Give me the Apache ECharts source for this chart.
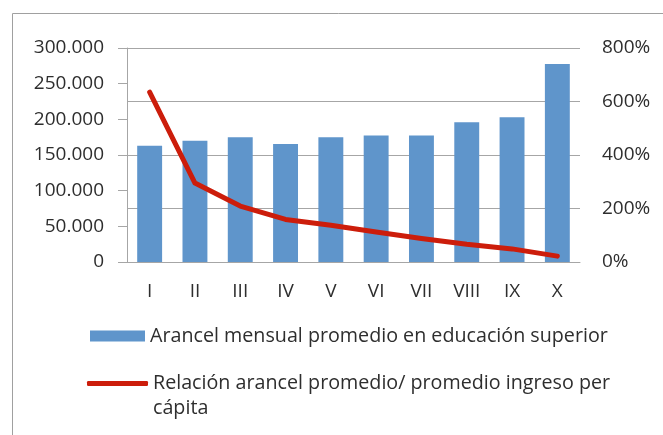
<!DOCTYPE html>
<html><head><meta charset="utf-8">
<script src="https://cdn.jsdelivr.net/npm/echarts@6/dist/echarts.min.js"></script>
<style>html,body{margin:0;padding:0;background:#fff}#c{width:663px;height:435px}</style>
</head><body><div id="c"></div>
<script>
const categories = ['I','II','III','IV','V','VI','VII','VIII','IX','X'];
const arancel = [163000,170000,175000,165500,175000,177500,177500,196000,203000,277500];
const relacion = [635,295,209,159,137,112,88,66,49,22];
const barName = 'Arancel mensual promedio en educación superior';
const lineName = 'Relación arancel promedio/ promedio ingreso per cápita';

const FONT = 'Open Sans';
const TXT = '#2e2e2e';
const GRID = '#a6a6a6';
const chart = echarts.init(document.getElementById('c'), null, {renderer:'canvas'});
const fmtThousands = v => String(v).replace(/\B(?=(\d{3})+(?!\d))/g, '.');
chart.setOption({
  animation:false,
  textStyle:{fontFamily:FONT},
  graphic:[{type:'rect', z:-10, silent:true, shape:{x:12.5,y:13.5,width:700,height:500}, style:{fill:'none',stroke:'#a0a0a0',lineWidth:1}}],
  grid:{left:127,right:83,top:48,bottom:173},
  legend:[
    {left:90, top:326, padding:0, itemWidth:55, itemHeight:11, icon:'rect', data:[barName],
     textStyle:{fontFamily:FONT,fontSize:19.7,color:TXT}},
    {left:87, top:346, padding:0, itemWidth:61, itemHeight:5, icon:'roundRect', data:[lineName],
     formatter: n => '\n' + n.replace(' per cápita',' per\ncápita'),
     textStyle:{fontFamily:FONT,fontSize:19.7,color:TXT,lineHeight:25}}
  ],
  xAxis:{type:'category', data:categories,
    axisLine:{lineStyle:{color:GRID,width:1}}, axisTick:{show:false},
    axisLabel:{margin:20,fontSize:19,color:TXT,fontFamily:FONT}},
  yAxis:[
    {type:'value', min:0, max:300000, interval:50000, position:'left',
     axisLine:{show:true,lineStyle:{color:GRID}}, axisTick:{show:true,length:9,lineStyle:{color:GRID}},
     splitLine:{show:false},
     axisLabel:{margin:23,fontSize:19,color:TXT,fontFamily:FONT,formatter:fmtThousands}},
    {type:'value', min:0, max:800, interval:200, position:'right',
     axisLine:{show:false}, axisTick:{show:false},
     splitLine:{show:true,lineStyle:{color:GRID,width:1}},
     axisLabel:{margin:22,fontSize:19,color:TXT,fontFamily:FONT,formatter:'{value}%'}}
  ],
  series:[
    {name:barName, type:'bar', data:arancel, barCategoryGap:'45%', itemStyle:{color:'#5f95cb'}},
    {name:lineName, type:'line', yAxisIndex:1, data:relacion, symbol:'none', showSymbol:false,
     lineStyle:{color:'#cc1d0b',width:5,cap:'round',join:'round'}, itemStyle:{color:'#cc1d0b'}, z:5}
  ]
});
</script></body></html>
